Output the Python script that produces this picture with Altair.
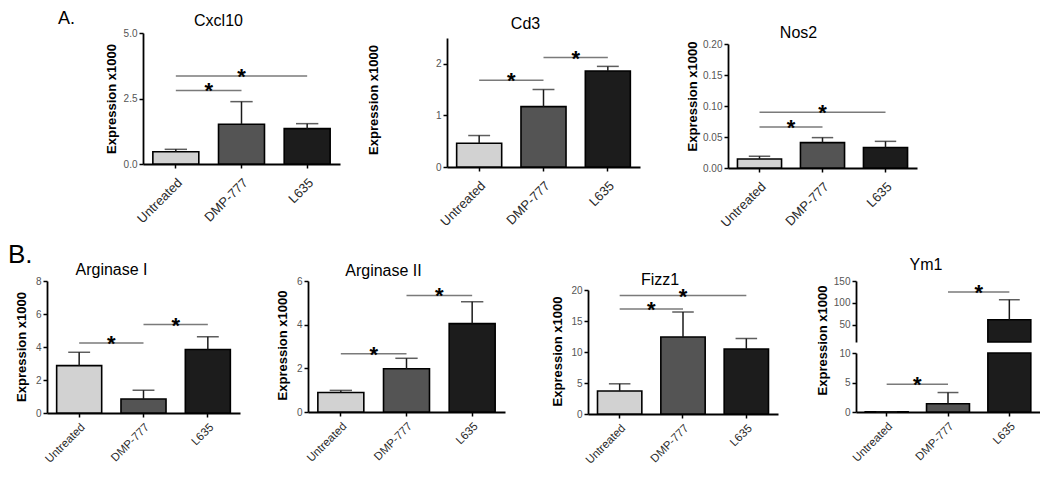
import altair as alt
import pandas as pd

FONT = "Liberation Sans"

groups = ["Untreated", "DMP-777", "L635"]
bar_colors = ["#d2d2d2", "#545454", "#1c1c1c"]

# ---- Panel A values (mean, SEM) ----
cxcl10_mean = [0.47, 1.52, 1.35]
cxcl10_sem = [0.09, 0.86, 0.19]
cd3_mean = [0.46, 1.17, 1.86]
cd3_sem = [0.15, 0.33, 0.09]
nos2_mean = [0.0145, 0.041, 0.033]
nos2_sem = [0.0045, 0.008, 0.010]

# ---- Panel B values (mean, SEM) ----
arg1_mean = [2.87, 0.85, 3.85]
arg1_sem = [0.81, 0.53, 0.77]
arg2_mean = [0.89, 1.98, 4.05]
arg2_sem = [0.10, 0.48, 1.00]
fizz1_mean = [3.70, 12.43, 10.48]
fizz1_sem = [1.17, 4.02, 1.69]
ym1_mean = [0.02, 1.40, 61.0]
ym1_sem = [0.02, 1.90, 46.0]

# ---- significance brackets: (from, to, height) ----
cxcl10_sig = [("Untreated", "DMP-777", 2.81), ("Untreated", "L635", 3.36)]
cd3_sig = [("Untreated", "DMP-777", 1.68), ("DMP-777", "L635", 2.12)]
nos2_sig = [("Untreated", "DMP-777", 0.066), ("Untreated", "L635", 0.090)]
arg1_sig = [("Untreated", "DMP-777", 4.25), ("DMP-777", "L635", 5.36)]
arg2_sig = [("Untreated", "DMP-777", 2.67), ("DMP-777", "L635", 5.34)]
fizz1_sig = [("Untreated", "DMP-777", 16.93), ("Untreated", "L635", 19.1)]
ym1_sig = [("Untreated", "DMP-777", 4.7), ("DMP-777", "L635", 125.0)]

# ---- axis ticks ----
cxcl10_ticks = [0, 2.5, 5.0]
cd3_ticks = [0, 1, 2]
nos2_ticks = [0, 0.05, 0.10, 0.15, 0.20]
arg1_ticks = [0, 2, 4, 6, 8]
arg2_ticks = [0, 2, 4, 6]
fizz1_ticks = [0, 5, 10, 15, 20]
ym1_upper_ticks = [50, 100, 150]
ym1_lower_ticks = [0, 5, 10]


def spacer(w, h, label=None, lx=0, ly=0, size=19):
    df = pd.DataFrame({"t": [label if label else ""]})
    return alt.Chart(df).mark_text(
        align="left", baseline="alphabetic", fontSize=size, font=FONT, color="black"
    ).encode(text="t:N", x=alt.value(lx), y=alt.value(ly)).properties(width=w, height=h)


def segment(mean, sem, sig, ydomain, yrange, yticks, fmt, width, ytitle_x, ytitle_y,
            show_ytitle=True, clamp=False, lab_size=12, lab_pad=5):
    step = width / 3.0
    df = pd.DataFrame({"group": groups, "mean": mean,
                       "upper": [m + s for m, s in zip(mean, sem)]})
    bars_df = df[df["mean"] > ydomain[0]]
    err_df = df[(df["upper"] <= ydomain[1]) & (df["mean"] >= ydomain[0])]
    sdf = pd.DataFrame({
        "from": [s[0] for s in sig], "to": [s[1] for s in sig],
        "y": [s[2] for s in sig],
    })
    sdf = sdf[(sdf["y"] >= ydomain[0]) & (sdf["y"] <= ydomain[1])].copy()
    sdf["adj"] = [abs(groups.index(a) - groups.index(b)) == 1 for a, b in zip(sdf["from"], sdf["to"])]
    sdf["mid"] = "DMP-777"

    xscale = alt.Scale(domain=groups, paddingInner=0.3, paddingOuter=0.15)
    xaxis = alt.Axis(title=None, labelAngle=-45, labelAlign="right", labelBaseline="top",
                     labelFontSize=lab_size, labelColor="#2a2a2a", labelFont=FONT,
                     tickSize=4, tickWidth=1.5, tickColor="black",
                     domainColor="black", domainWidth=1.8, labelPadding=lab_pad)
    yscale = alt.Scale(domain=ydomain, range=list(yrange), nice=False, zero=False, clamp=clamp)
    yax = dict(values=yticks, format=fmt, orient="left", labelFontSize=10, labelColor="#555555",
               labelFont=FONT, tickSize=4, tickWidth=1.5, tickColor="black",
               domainColor="black", domainWidth=1.8, labelPadding=2, grid=False,
               titleFont=FONT, titleFontSize=13, titleFontWeight="bold",
               titleColor="black", titleX=ytitle_x, titleY=ytitle_y)
    yax["title"] = "Expression x1000" if show_ytitle else ""
    yaxis = alt.Axis(**yax)

    def X(f):
        return alt.X(f, scale=xscale, axis=xaxis)

    def Y(f):
        return alt.Y(f, scale=yscale, axis=yaxis)

    layers = []
    if len(bars_df):
        layers.append(alt.Chart(bars_df).mark_bar(stroke="black", strokeWidth=1.6).encode(
            x=X("group:N"), y=Y("mean:Q"), y2=alt.datum(ydomain[0]),
            color=alt.Color("group:N", scale=alt.Scale(domain=groups, range=bar_colors), legend=None)))
    if len(err_df):
        layers.append(alt.Chart(err_df).mark_rule(color="#1a1a1a", strokeWidth=1.5).encode(
            x=X("group:N"), y=Y("mean:Q"), y2="upper:Q"))
        layers.append(alt.Chart(err_df).mark_tick(color="#1a1a1a", thickness=1.5,
                                                  size=step * 0.34).encode(
            x=X("group:N"), y=Y("upper:Q")))
    if len(sdf):
        layers.append(alt.Chart(sdf).mark_rule(color="#7a7a7a", strokeWidth=1.5).encode(
            x=X("from:N"), x2="to", y=Y("y:Q")))
        adj = sdf[sdf["adj"]]
        span = sdf[~sdf["adj"]]
        if len(adj):
            layers.append(alt.Chart(adj).mark_text(text="*", dx=step / 2, dy=8, fontSize=22,
                                                   baseline="alphabetic", fontWeight="bold",
                                                   font=FONT, color="black").encode(
                x=X("from:N"), y=Y("y:Q")))
        if len(span):
            layers.append(alt.Chart(span).mark_text(text="*", dy=8, fontSize=22,
                                                    baseline="alphabetic", fontWeight="bold",
                                                    font=FONT, color="black").encode(
                x=X("mid:N"), y=Y("y:Q")))
    return alt.layer(*layers)


def title(name, dx, offset):
    return alt.TitleParams(text=name, fontSize=16, font=FONT, fontWeight="normal",
                           color="black", anchor="middle", dx=dx, offset=offset)


def panel(name, mean, sem, sig, ydomain, yticks, fmt, width, height, top,
          ytitle_x, ytitle_y, title_dx, title_offset, lab_size=12, lab_pad=5):
    seg = segment(mean, sem, sig, ydomain, (height, top), yticks, fmt, width,
                  ytitle_x, ytitle_y, lab_size=lab_size, lab_pad=lab_pad)
    return seg.properties(width=width, height=height, title=title(name, title_dx, title_offset))


# ---- top row (row origin = plot top of Cxcl10) ----
TL = dict(lab_size=13, lab_pad=8)
a1 = panel("Cxcl10", cxcl10_mean, cxcl10_sem, cxcl10_sig, [0, 5], cxcl10_ticks, ".1f",
           197, 131, 0, -24.5, 65.5, -23, -1, **TL)
a2 = panel("Cd3", cd3_mean, cd3_sem, cd3_sig, [0, 2.5], cd3_ticks, "d",
           193, 134, 5, -67, 66.5, -18, 1, **TL)
a3 = panel("Nos2", nos2_mean, nos2_sem, nos2_sig, [0, 0.2], nos2_ticks, ".2f",
           189, 135, 11, -28.5, 63, -24, -7.5, **TL)

# ---- bottom row ----
BL = dict(lab_size=11.5, lab_pad=4)
b1 = panel("Arginase I", arg1_mean, arg1_sem, arg1_sig, [0, 8], arg1_ticks, "d",
           193, 132, 0, -18.5, 65.5, -32, -2, **BL)
b2 = panel("Arginase II", arg2_mean, arg2_sem, arg2_sig, [0, 6], arg2_ticks, "d",
           197, 131, 0, -19, 64, -23, -2.5, **BL)
b3 = panel("Fizz1", fizz1_mean, fizz1_sem, fizz1_sig, [0, 20], fizz1_ticks, "d",
           190, 133, 9, -24, 70, -23, -6.5, **BL)

YM1_W = 184
ym1_upper = segment(ym1_mean, ym1_sem, ym1_sig, [10, 150], (61, 0), ym1_upper_ticks, "d",
                    YM1_W, -27, 59, show_ytitle=False, clamp=True, **BL)
ym1_lower = segment(ym1_mean, ym1_sem, ym1_sig, [0, 10], (131, 72), ym1_lower_ticks, "d",
                    YM1_W, -27, 59, show_ytitle=True, clamp=True, **BL)
b4 = alt.layer(ym1_upper, ym1_lower).resolve_scale(y="independent").properties(
    width=YM1_W, height=131, title=title("Ym1", -22, 3.5))

top_row = alt.hconcat(
    spacer(135, 1, "A.", 50, -9, 18), a1, spacer(107, 1), a2, spacer(88, 1), a3,
    spacing=0, bounds="flush")

bottom_row = alt.hconcat(
    spacer(39, 1, "B.", 0, -18, 26), b1, spacer(68, 1), b2, spacer(83, 1), b3,
    spacer(78, 1), b4, spacing=0, bounds="flush")

chart = alt.vconcat(top_row, bottom_row, spacing=12).properties(
    padding={"top": 2, "bottom": 0, "left": 0, "right": 0}, background="white"
).configure_view(stroke="transparent", strokeWidth=0)

chart.save("out.html", embed_options={"renderer": "svg", "actions": False})
